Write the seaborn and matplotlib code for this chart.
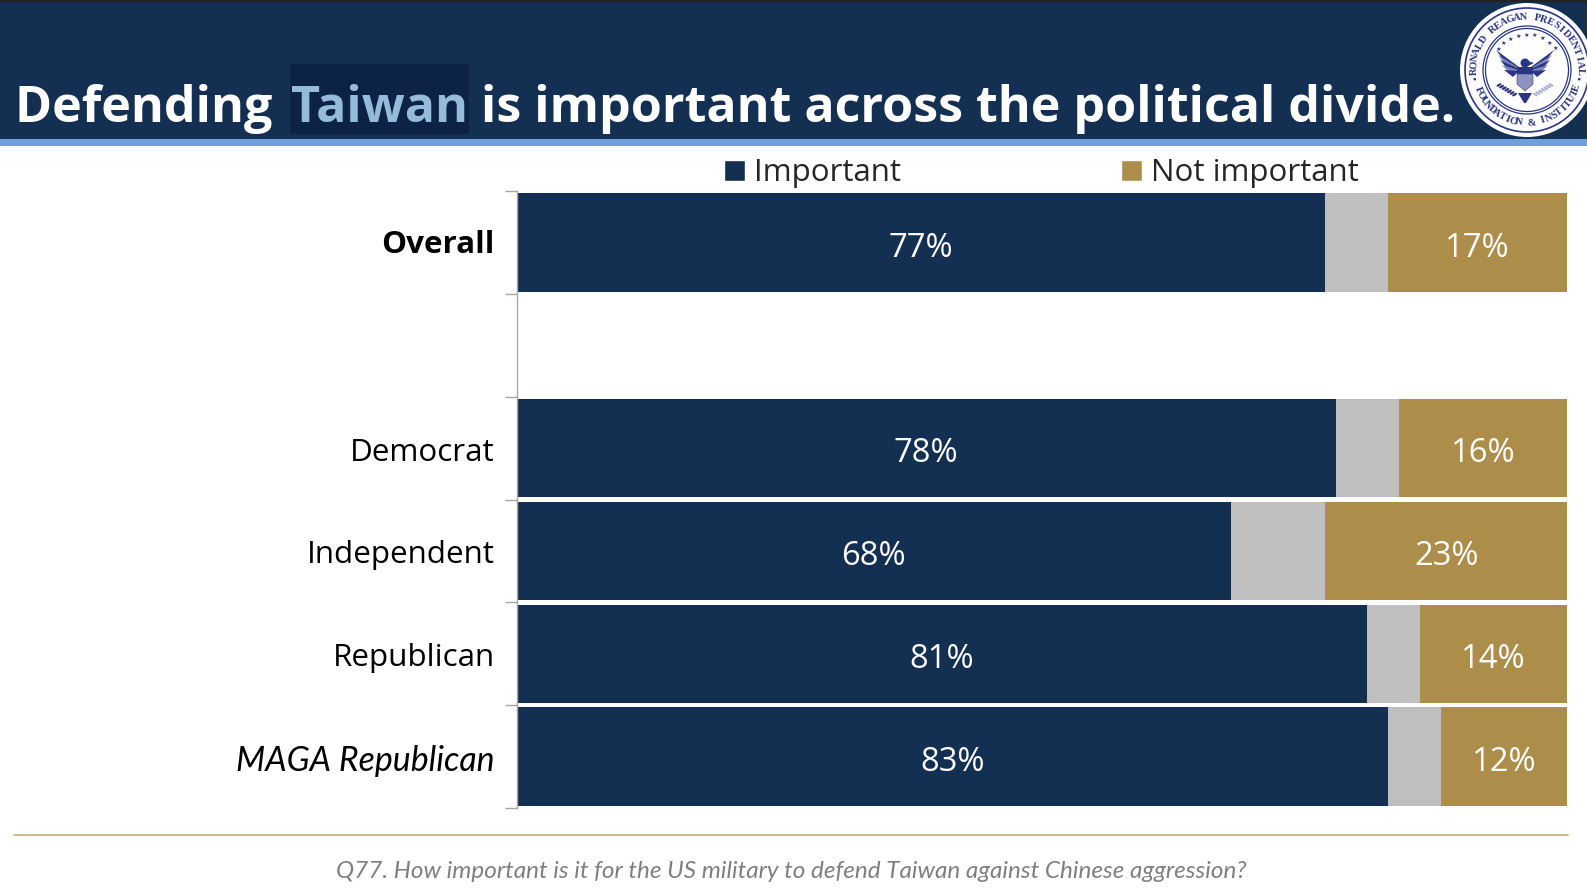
import numpy as np
import pandas as pd
import matplotlib
matplotlib.use("Agg")
import matplotlib.pyplot as plt
from matplotlib.patches import Patch, Rectangle, Circle, Polygon, Ellipse
import seaborn as sns

# Survey results, percent of respondents
categories = ["Overall", " ", "Democrat", "Independent", "Republican", "MAGA Republican"]
important = [77, np.nan, 78, 68, 81, 83]
unsure = [6, np.nan, 6, 9, 5, 5]
not_important = [17, np.nan, 16, 23, 14, 12]

title_parts = ["Defending ", "Taiwan", " is important across the political divide."]
question = "Q77. How important is it for the US military to defend Taiwan against Chinese aggression?"

NAVY = "#132F52"
GOLD = "#AD8D4A"
GRAY = "#BFBFBF"
W, H = 1587, 894

sns.set_theme(style="white")
plt.rcParams["font.family"] = ["Open Sans", "DejaVu Sans"]

fig = plt.figure(figsize=(W / 100, H / 100), dpi=100, facecolor="white")

# Full-figure layer in pixel units for the banner and footer
bg = fig.add_axes([0, 0, 1, 1], zorder=0)
bg.set_xlim(0, W)
bg.set_ylim(H, 0)
bg.axis("off")
bg.add_patch(Rectangle((0, 0), W, 139, color=NAVY, lw=0))
bg.add_patch(Rectangle((0, 0), W, 2, color="#222222", lw=0))
bg.add_patch(Rectangle((0, 139), W, 7, color="#6FA0DC", lw=0))
bg.plot([14, 1568], [835, 835], color="#CDB585", lw=1.3)
bg.text(791, 872, question, ha="center", va="center", family="Lato", style="italic",
        fontsize=17.5, color="#7F7F7F")

# Title pieces are laid end to end so that one word can carry its own colour
renderer = fig.canvas.get_renderer()
x = 15
for part, colour, gap in zip(title_parts, ["white", "#94BBD8", "white"], [6, 0, 0]):
    t = bg.text(x, 122, part.replace(" ", "\u00a0"), color=colour, family="Open Sans",
                fontweight="bold", fontsize=36.2, va="baseline", ha="left", zorder=3)
    width = t.get_window_extent(renderer).width
    if part == "Taiwan":
        bg.add_patch(Rectangle((x - 1, 64), width + 2, 70, color="#0C2347", lw=0, zorder=2))
    x += width + gap

# Stacked bars: draw the running totals back to front
ax = fig.add_axes([516.5 / W, 1 - 808 / H, 1050.5 / W, (808 - 191) / H], zorder=1)
ax.patch.set_alpha(0)
df = pd.DataFrame({"category": categories, "important": important,
                   "unsure": unsure, "not_important": not_important})
df["upto_unsure"] = df["important"] + df["unsure"]
df["total"] = df["upto_unsure"] + df["not_important"]
for col, colour in [("total", GOLD), ("upto_unsure", GRAY), ("important", NAVY)]:
    sns.barplot(data=df, y="category", x=col, order=categories, color=colour, width=0.955,
                saturation=1, ax=ax, orient="h", edgecolor="none", linewidth=0)

for i, row in df.iterrows():
    if np.isnan(row["important"]):
        continue
    ax.text(row["important"] / 2, i + 0.055, f"{row['important']:.0f}%", ha="center", va="center",
            color="white", fontsize=23.6)
    ax.text(row["upto_unsure"] + row["not_important"] / 2, i + 0.055, f"{row['not_important']:.0f}%",
            ha="center", va="center", color="white", fontsize=23.6)

ax.set_xlim(0, 100)
ax.set_ylim(len(categories) - 0.5, -0.5)
ax.set_xlabel("")
ax.set_ylabel("")
ax.set_xticks([])
ax.set_yticks([])
for side in ["top", "right", "bottom"]:
    ax.spines[side].set_visible(False)
ax.spines["left"].set_color("#A6A6A6")
ax.spines["left"].set_linewidth(1.0)
ax.set_yticks(np.arange(len(categories) + 1) - 0.5, minor=True)
ax.tick_params(axis="y", which="minor", length=9, width=1, color="#A6A6A6", left=True, labelleft=False)

# Category labels, with one bold and one italic entry
for i, name in enumerate(categories):
    style = dict(fontsize=22.6, family="Open Sans")
    offset = -3.3
    if name == "Overall":
        style.update(fontweight="bold", fontsize=22.6)
        offset = -1.6
    if name == "MAGA Republican":
        style.update(style="italic", family="Lato", fontsize=24.4)
    ax.annotate(name, xy=(0, i), xycoords=("axes fraction", "data"), xytext=(-15.5, offset),
                textcoords="offset points", ha="right", va="center", color="black", **style)

handles = [Patch(facecolor=NAVY, label="Important"), Patch(facecolor=GOLD, label="Not important")]
fig.legend(handles=handles, ncols=2, loc="center left", bbox_to_anchor=(724 / W, 1 - 173.5 / H),
           frameon=False, fontsize=22.5, handlelength=0.67, handleheight=0.67, handletextpad=0.3,
           columnspacing=7.03, borderpad=0, borderaxespad=0)

# Seal in the top right corner
cx, cy = 1527, 70
SEAL = "#2A3583"
bg.add_patch(Circle((cx, cy), 67, color="white", lw=0, zorder=4))
bg.add_patch(Circle((cx, cy), 62, fill=False, ec=SEAL, lw=1.2, zorder=5))
bg.add_patch(Circle((cx, cy), 44, fill=False, ec=SEAL, lw=0.9, zorder=5))
bg.add_patch(Circle((cx, cy), 41.5, fill=False, ec=SEAL, lw=0.9, zorder=5))


def arc_text(text, radius, start_deg, step_deg, clockwise=True):
    for k, ch in enumerate(text):
        ang = start_deg + (step_deg * k if clockwise else -step_deg * k)
        rad = np.deg2rad(ang)
        px, py = cx + radius * np.sin(rad), cy - radius * np.cos(rad)
        rot = -ang if clockwise else 180 - ang
        bg.text(px, py, ch, ha="center", va="center", rotation=rot, rotation_mode="anchor",
                family="Liberation Serif", fontweight="bold", fontsize=7.4, color=SEAL, zorder=6)


arc_text("RONALD REAGAN PRESIDENTIAL", 53, -92, 7.35)
arc_text("FOUNDATION & INSTITUTE", 53, 248, 6.6, clockwise=False)

for ang in np.arange(-55, 56, 13.5):
    rad = np.deg2rad(ang)
    bg.text(cx + 35 * np.sin(rad), cy - 35 * np.cos(rad), "★", ha="center", va="center",
            fontsize=4.5, color=SEAL, zorder=6, family="DejaVu Sans")
for ang in (-100, 100):
    rad = np.deg2rad(ang)
    bg.add_patch(Circle((cx + 53 * np.sin(rad), cy - 53 * np.cos(rad)), 1.3, color=SEAL, lw=0, zorder=6))

# Eagle: wings, head, shield and the two sprays
for side in (-1, 1):
    for k in range(5):
        tip = (cx - 2 + side * (29 - k * 2), cy - 20 + k * 5)
        bg.add_patch(Polygon([(cx - 2 + side * 6, cy - 3 + k), tip, (cx - 2 + side * 12, cy + 3 + k)],
                             closed=True, fc=SEAL if k % 2 == 0 else "#7C83B8", lw=0, zorder=6))
    sx = cx - 2 + side * 26
    for k in range(7):
        bg.add_patch(Ellipse((sx - side * k * 2.6, cy + 15 + k * 1.6), 5.5, 2.4, angle=side * 30,
                             fc=SEAL if side < 0 else "#AEB1CF", lw=0, zorder=6))
ex = cx - 2
bg.add_patch(Ellipse((ex, cy - 7), 9, 9, fc=SEAL, lw=0, zorder=7))
bg.add_patch(Polygon([(ex + 3, cy - 9), (ex + 9, cy - 7), (ex + 3, cy - 4)], fc=SEAL, lw=0, zorder=7))
bg.add_patch(Rectangle((ex - 8, cy - 3), 16, 7, fc=SEAL, lw=0, zorder=7))
bg.add_patch(Polygon([(ex - 8, cy + 4), (ex + 8, cy + 4), (ex + 8, cy + 14), (ex, cy + 21), (ex - 8, cy + 14)],
                     fc="#8E93BF", ec=SEAL, lw=0.4, zorder=7))
bg.add_patch(Polygon([(ex - 7, cy + 23), (ex + 7, cy + 23), (ex + 1, cy + 33), (ex - 1, cy + 33)],
                     fc=SEAL, lw=0, zorder=7))

fig.savefig("out.png", dpi=100)
